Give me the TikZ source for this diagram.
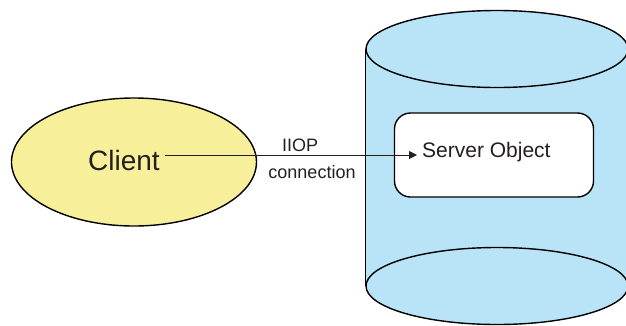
\documentclass[tikz,border=0pt]{standalone}
\usepackage{fontspec}
\setmainfont{Liberation Sans}
\usetikzlibrary{shapes.geometric,arrows.meta}
\definecolor{cyellow}{HTML}{F7EF99}
\definecolor{cblue}{HTML}{B9E4F8}
\definecolor{ink}{HTML}{231F20}
\begin{document}
\begin{tikzpicture}[x=1pt,y=-1pt,
  outline/.style={draw=black,line width=1.4pt},
  txt/.style={inner sep=0pt,text=ink},
  cyl/.style={ellipse,outline,fill=cblue,minimum width=262pt,minimum height=77pt,inner sep=0pt},
  conn/.style={draw=ink,line width=1pt,-{Triangle[length=8pt,width=8pt]}}]
\useasboundingbox (0,0) rectangle (626,325);
\clip (0,0) rectangle (626,325);
% client
\node[ellipse,outline,fill=cyellow,minimum width=245pt,minimum height=128pt,inner sep=0pt] (client) at (134,162) {};
\node[txt,font=\fontsize{28}{30}\selectfont] (clienttxt) at (124,160) {Client};
% cylinder
\fill[cblue] (366,49) rectangle (628,286);
\node[cyl] (bottom) at (497,286) {};
\node[cyl] (top) at (497,49) {};
\draw[outline] (top.west) -- (bottom.west);
\draw[outline] (top.east) -- (bottom.east);
% server object
\node[outline,fill=white,rounded corners=16pt,minimum width=199pt,minimum height=84pt,inner sep=0pt] (server) at (494,155) {};
\node[txt,font=\fontsize{21}{23}\selectfont,anchor=west] (srvtxt) at (422,152) {Server Object};
% connector
\coordinate (astart) at ([shift={(5,-5)}]clienttxt.east);
\draw[conn] (astart) -- ([xshift=-5pt]astart -| srvtxt.west);
\node[txt,font=\fontsize{18}{20}\selectfont] (iiop) at (300,145) {IIOP};
\node[txt,font=\fontsize{18}{20}\selectfont] (connlbl) at (312,172) {connection};
\end{tikzpicture}
\end{document}
